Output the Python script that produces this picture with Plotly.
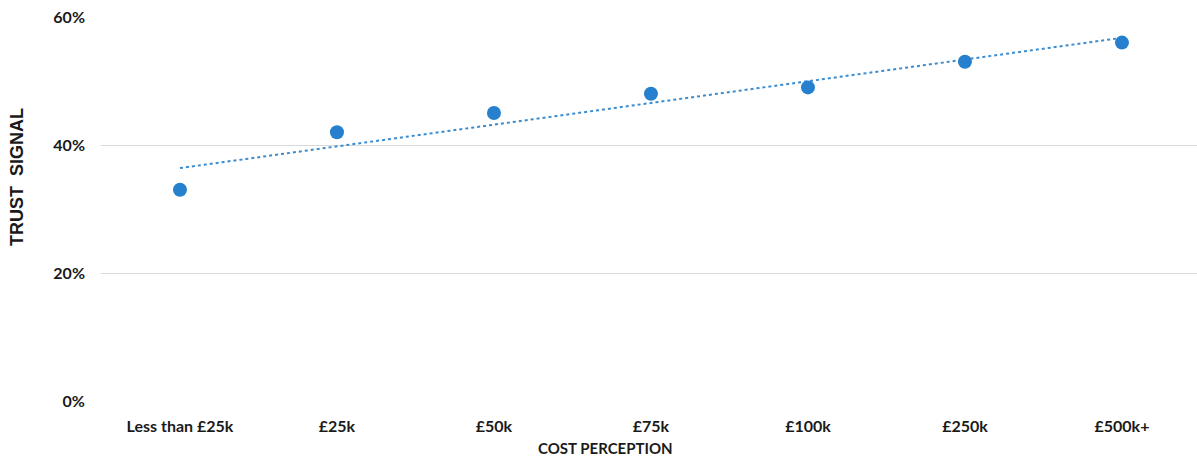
import numpy as np
import plotly.graph_objects as go

categories = ["Less than £25k", "£25k", "£50k", "£75k", "£100k", "£250k", "£500k+"]
trust_signal = [0.33, 0.42, 0.45, 0.48, 0.49, 0.53, 0.56]
y_ticks = [0, 0.2, 0.4, 0.6]
y_tick_labels = ["0%", "20%", "40%", "60%"]

xi = np.arange(len(categories))
slope, intercept = np.polyfit(xi, trust_signal, 1)
trend = slope * xi + intercept

FONT = "Lato"

fig = go.Figure()
fig.add_trace(go.Scatter(x=xi, y=trend, mode="lines",
                         line=dict(color="#3a8ccf", width=2, dash="dot"),
                         hoverinfo="skip", showlegend=False))
fig.add_trace(go.Scatter(x=xi, y=trust_signal, mode="markers",
                         marker=dict(color="#2680cd", size=14),
                         showlegend=False, cliponaxis=False))

fig.update_layout(
    width=1197, height=459,
    margin=dict(l=101, r=0, t=17, b=58),
    paper_bgcolor="white", plot_bgcolor="white",
    font=dict(family=FONT, color="#1a1a1a"),
    xaxis=dict(range=[-0.503, 6.478], tickmode="array", tickvals=list(xi),
               ticktext=categories, showgrid=False, zeroline=False,
               showline=False, ticks="", ticklabelstandoff=14,
               tickfont=dict(family=FONT, size=16, weight="bold", color="#1a1a1a")),
    yaxis=dict(range=[0, 0.6], tickmode="array", tickvals=y_ticks,
               ticktext=y_tick_labels, showgrid=True, gridcolor="#d9d9d9",
               gridwidth=1, zeroline=False, showline=False, ticks="",
               ticklabelstandoff=15,
               tickfont=dict(family=FONT, size=16, weight="bold", color="#1a1a1a")),
    annotations=[
        dict(text="COST PERCEPTION", xref="paper", yref="paper",
             x=(605 - 101) / 1096, y=-(448 - 401) / 384, xanchor="center", yanchor="middle",
             showarrow=False, font=dict(family=FONT, size=15, weight="bold", color="#1a1a1a")),
        dict(text="TRUST  SIGNAL", xref="paper", yref="paper",
             x=-(101 - 17) / 1096, y=(401 - 177) / 384, xanchor="center", yanchor="middle",
             textangle=-90, showarrow=False,
             font=dict(family="Liberation Sans", size=18, weight="bold", color="#1a1a1a")),
    ],
)

fig.write_html("out.html")
